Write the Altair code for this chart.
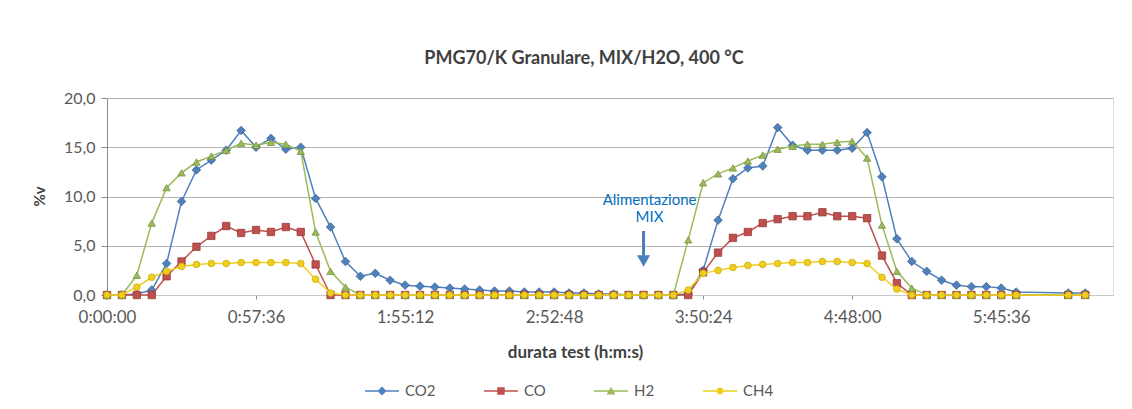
import altair as alt
import pandas as pd

# ---------------- data ----------------
series_names = ["CO2", "CO", "H2", "CH4"]
series_colors = ["#4F81BD", "#C0504D", "#9BBB59", "#F0CE1E"]
marker_edges = ["#3A5F8C", "#8E3432", "#71893F", "#C7A60A"]
marker_shapes = ["diamond", "square", "triangle-up", "circle"]

time_labels = [
    "0:00:00", "0:05:46", "0:11:31", "0:17:17", "0:23:02", "0:28:48", "0:34:34", "0:40:19",
    "0:46:05", "0:51:50", "0:57:36", "1:03:22", "1:09:07", "1:14:53", "1:20:38", "1:26:24",
    "1:32:10", "1:37:55", "1:43:41", "1:49:26", "1:55:12", "2:00:58", "2:06:43", "2:12:29",
    "2:18:14", "2:24:00", "2:29:46", "2:35:31", "2:41:17", "2:47:02", "2:52:48", "2:58:34",
    "3:04:19", "3:10:05", "3:15:50", "3:21:36", "3:27:22", "3:33:07", "3:38:53", "3:44:38",
    "3:50:24", "3:56:10", "4:01:55", "4:07:41", "4:13:26", "4:19:12", "4:24:58", "4:30:43",
    "4:36:29", "4:42:14", "4:48:00", "4:53:46", "4:59:31", "5:05:17", "5:11:02", "5:16:48",
    "5:22:34", "5:28:19", "5:34:05", "5:39:50", "5:45:36", "5:51:22", "6:11:30", "6:18:04",
]

co2 = [
    0.0, 0.0, 0.1, 0.5, 3.2, 9.5, 12.7, 13.7, 14.7, 16.7, 15.0, 15.9, 14.8, 15.0, 9.8, 6.9,
    3.4, 1.9, 2.2, 1.5, 1.0, 0.9, 0.8, 0.7, 0.6, 0.5, 0.4, 0.4, 0.3, 0.3, 0.3, 0.2,
    0.2, 0.1, 0.1, 0.0, 0.0, 0.0, 0.0, 0.1, 2.5, 7.6, 11.8, 12.9, 13.1, 17.0, 15.2, 14.7,
    14.7, 14.7, 14.9, 16.5, 12.0, 5.7, 3.4, 2.4, 1.5, 1.0, 0.85, 0.85, 0.7, 0.3, 0.2, 0.2,
]
co = [
    0.0, 0.0, 0.0, 0.0, 1.9, 3.4, 4.9, 6.0, 7.0, 6.3, 6.6, 6.4, 6.9, 6.4, 3.1, 0.0,
    0.0, 0.0, 0.0, 0.0, 0.0, 0.0, 0.0, 0.0, 0.0, 0.0, 0.0, 0.0, 0.0, 0.0, 0.0, 0.0,
    0.0, 0.0, 0.0, 0.0, 0.0, 0.0, 0.0, 0.0, 2.3, 4.3, 5.8, 6.4, 7.3, 7.7, 8.0, 8.0,
    8.4, 8.0, 8.0, 7.8, 4.0, 1.2, 0.0, 0.0, 0.0, 0.0, 0.0, 0.0, 0.0, 0.0, 0.0, 0.0,
]
h2 = [
    0.0, 0.0, 2.0, 7.3, 10.9, 12.4, 13.5, 14.1, 14.7, 15.4, 15.2, 15.5, 15.3, 14.6, 6.4, 2.4,
    0.8, 0.0, 0.0, 0.0, 0.0, 0.0, 0.0, 0.0, 0.0, 0.0, 0.0, 0.0, 0.0, 0.0, 0.0, 0.0,
    0.0, 0.0, 0.0, 0.0, 0.0, 0.0, 0.0, 5.6, 11.4, 12.3, 12.9, 13.6, 14.2, 14.8, 15.1, 15.3,
    15.3, 15.5, 15.6, 13.9, 7.1, 2.4, 0.7, 0.0, 0.0, 0.0, 0.0, 0.0, 0.0, 0.0, 0.0, 0.0,
]
ch4 = [
    0.0, 0.0, 0.8, 1.8, 2.4, 2.9, 3.1, 3.2, 3.2, 3.3, 3.3, 3.3, 3.3, 3.2, 1.6, 0.2,
    0.0, 0.0, 0.0, 0.0, 0.0, 0.0, 0.0, 0.0, 0.0, 0.0, 0.0, 0.0, 0.0, 0.0, 0.0, 0.0,
    0.0, 0.0, 0.0, 0.0, 0.0, 0.0, 0.0, 0.5, 2.2, 2.5, 2.8, 3.0, 3.1, 3.2, 3.3, 3.3,
    3.4, 3.4, 3.3, 3.2, 1.8, 0.6, 0.0, 0.0, 0.0, 0.0, 0.0, 0.0, 0.0, 0.0, 0.0, 0.0,
]

x_tick_labels = ["0:00:00", "0:57:36", "1:55:12", "2:52:48", "3:50:24", "4:48:00", "5:45:36"]
y_ticks = [0, 5, 10, 15, 20]
x_axis_max = "6:28:48"

annotation_time = "3:27:22"
annotation_lines = ["Alimentazione", "MIX"]


def to_sec(s):
    h, m, sec = (int(p) for p in s.split(":"))
    return h * 3600 + m * 60 + sec


rows = []
for name, vals in zip(series_names, [co2, co, h2, ch4]):
    for t, v in zip(time_labels, vals):
        rows.append({"t": to_sec(t), "series": name, "value": v})
df = pd.DataFrame(rows)

x_ticks = [to_sec(s) for s in x_tick_labels]
X_MAX = to_sec(x_axis_max)

FONT = "Lato"
GRID = "#B3B3B3"
AXIS = "#8C8C8C"
TXT = "#595959"

x_enc = alt.X(
    "t:Q",
    scale=alt.Scale(domain=[0, X_MAX], nice=False, zero=False),
    axis=alt.Axis(
        values=x_ticks,
        labelExpr="utcFormat(datum.value*1000, '%-H:%M:%S')",
        title="durata test (h:m:s)",
        grid=False,
        domainColor="#C8C8C8",
        tickColor=AXIS,
        tickSize=4,
        labelPadding=10,
        labelFontSize=17,
        labelColor=TXT,
        labelFont=FONT,
        labelFlush=False,
        titleFont=FONT,
        titleFontSize=17,
        titleFontWeight="bold",
        titleColor="#404040",
        titleX=468,
        titleY=57,
        titleBaseline="middle",
        titleAnchor="start",
        titleAlign="center",
    ),
)
y_enc = alt.Y(
    "value:Q",
    scale=alt.Scale(domain=[0, 20], nice=False),
    axis=alt.Axis(
        values=y_ticks,
        labelExpr="replace(format(datum.value, '.1f'), '.', ',')",
        title="%v",
        grid=True,
        gridColor=GRID,
        gridWidth=1,
        domainColor=AXIS,
        tickColor=AXIS,
        tickSize=6,
        labelPadding=6,
        labelFontSize=16,
        labelColor=TXT,
        labelFont=FONT,
        titleFont=FONT,
        titleFontSize=15,
        titleFontWeight="bold",
        titleColor="#404040",
        titleAngle=270,
        titleX=-68,
        titleY=98,
        titleBaseline="middle",
        titleAlign="center",
    ),
)

base = alt.Chart(df).encode(x=x_enc, y=y_enc)

layers = []
for name, color, edge, shape in zip(series_names, series_colors, marker_edges, marker_shapes):
    sub = base.transform_filter(alt.datum.series == name)
    layers.append(sub.mark_line(color=color, strokeWidth=1.5))
    size = {"diamond": 75, "square": 55, "triangle-up": 55, "circle": 45}[shape]
    layers.append(
        sub.mark_point(shape=shape, filled=True, size=size, fill=color, stroke=edge,
                       strokeWidth=0.7, opacity=1)
    )

# legend (line + marker symbols), drawn from an empty layer with explicit domain
legend_paths = [
    "M-1,-0.045H1V0.045H-1Z M0,-0.27L0.27,0L0,0.27L-0.27,0Z",
    "M-1,-0.045H1V0.045H-1Z M-0.22,-0.22H0.22V0.22H-0.22Z",
    "M-1,-0.045H1V0.045H-1Z M0,-0.25L0.26,0.2H-0.26Z",
    "M-1,-0.045H1V0.045H-1Z M0.2,0A0.2,0.2,0,1,1,-0.2,0A0.2,0.2,0,1,1,0.2,0Z",
]
legend_df = pd.DataFrame({"series": series_names})
legend_layer = (
    alt.Chart(legend_df)
    .mark_point(filled=True, opacity=1, strokeWidth=0)
    .encode(
        color=alt.Color(
            "series:N",
            scale=alt.Scale(domain=series_names, range=series_colors),
            legend=alt.Legend(
                orient="none", legendX=258, legendY=276, direction="horizontal",
                title=None, symbolSize=1156, symbolStrokeWidth=0,
                labelFontSize=15, labelColor=TXT, labelFont=FONT, labelOffset=6,
                columnPadding=48, padding=0,
            ),
        ),
        shape=alt.Shape("series:N", scale=alt.Scale(domain=series_names, range=legend_paths)),
    )
    .transform_filter("datum.series == 'none'")
)

# annotation "Alimentazione MIX" with arrow
ann_t = to_sec(annotation_time)
ann_text_df = pd.DataFrame({"t": [ann_t, ann_t], "value": [9.6, 7.95], "label": annotation_lines})
ann_text = alt.Chart(ann_text_df).mark_text(
    font=FONT, fontSize=15, color="#0070C0", align="center", baseline="middle", dx=6
).encode(x=x_enc, y=y_enc, text="label:N")

arrow_df = pd.DataFrame({"t": [ann_t], "value": [6.5], "value2": [4.0]})
arrow_shaft = alt.Chart(arrow_df).mark_rule(color="#4A7EBB", strokeWidth=3).encode(
    x=x_enc, y=y_enc, y2="value2:Q"
)
head_df = pd.DataFrame({"t": [ann_t], "value": [3.45]})
arrow_head = alt.Chart(head_df).mark_point(
    shape="triangle-down", filled=True, size=170, color="#4A7EBB", opacity=1
).encode(x=x_enc, y=y_enc)

chart = (
    alt.layer(*layers, legend_layer, ann_text, arrow_shaft, arrow_head)
    .properties(
        width=1006,
        height=197,
        title=alt.TitleParams(
            "PMG70/K Granulare, MIX/H2O, 400 °C",
            font=FONT, fontSize=18, fontWeight="bold", color="#404040",
            anchor="middle", frame="group", dx=-26, offset=22,
        ),
        padding={"left": 99, "top": 90, "right": 10, "bottom": 104},
        autosize=alt.AutoSizeParams(type="none"),
    )
    .configure_view(stroke=None)
    .configure(font=FONT, background="white")
)

chart.save("out.html", embed_options={"renderer": "svg", "actions": False})
